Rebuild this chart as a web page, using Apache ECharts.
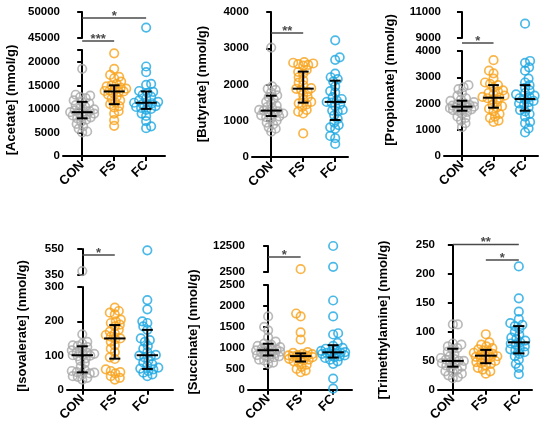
<!DOCTYPE html>
<html>
<head>
<meta charset="utf-8">
<script src="https://cdn.jsdelivr.net/npm/echarts@6/dist/echarts.min.js"></script>
<style>
  html, body { margin: 0; padding: 0; background: #fff; }
  #main { width: 550px; height: 424px; }
</style>
</head>
<body>
<div id="main"></div>
<script>
var groups = ['CON', 'FS', 'FC'];
var groupColors = ['#a9a9a9', '#f8a31c', '#1ea8e1'];

// values (nmol/g)
var acetateCON = [18500, 13000, 12800, 12500, 12300, 11800, 11500, 11200, 10800, 10500, 10200, 9900, 9700, 9500, 9400, 9300, 9200, 9000, 8800, 8600, 8400, 8200, 8000, 7700, 7300, 6800, 6300, 5800, 5200, 5000];
var acetateFS = [21800, 18500, 17200, 16800, 16500, 15800, 15300, 15000, 14800, 14500, 14300, 14100, 13900, 13800, 13700, 13600, 13400, 13000, 12600, 12200, 11800, 11400, 11000, 10600, 10300, 9500, 9000, 7600, 6400];
var acetateFC = [47000, 19000, 17800, 15300, 15100, 13800, 13600, 13400, 13000, 12600, 12200, 11800, 11500, 11300, 11200, 11000, 10800, 10600, 10400, 10200, 10000, 9800, 9000, 8500, 7400, 6300, 5900];

var butyrateCON = [3020, 1950, 1880, 1850, 1780, 1700, 1650, 1600, 1520, 1480, 1420, 1380, 1340, 1300, 1280, 1260, 1240, 1200, 1180, 1150, 1120, 1100, 1060, 1000, 950, 900, 820, 780, 700];
var butyrateFS = [2620, 2600, 2580, 2560, 2540, 2520, 2400, 2350, 2300, 2200, 2120, 2050, 1980, 1900, 1880, 1850, 1800, 1720, 1650, 1580, 1520, 1480, 1450, 1380, 1300, 1250, 1200, 650];
var butyrateFC = [3220, 2750, 2680, 2300, 2200, 2150, 2080, 1950, 1820, 1780, 1650, 1600, 1560, 1520, 1500, 1450, 1400, 1300, 1280, 1250, 1150, 1050, 950, 880, 820, 780, 580, 520, 360];

var propionateCON = [2700, 2620, 2550, 2400, 2300, 2200, 2150, 2100, 2050, 2000, 1980, 1950, 1920, 1900, 1880, 1860, 1850, 1820, 1800, 1780, 1750, 1720, 1680, 1600, 1500, 1450, 1350, 1250, 1100];
var propionateFS = [3650, 3250, 3150, 2950, 2800, 2750, 2700, 2600, 2500, 2450, 2400, 2350, 2300, 2250, 2220, 2200, 2150, 2050, 1950, 1900, 1850, 1800, 1700, 1600, 1500, 1450, 1350, 1300];
var propionateFC = [10100, 3620, 3550, 3380, 3250, 2950, 2800, 2700, 2600, 2500, 2400, 2350, 2300, 2250, 2200, 2170, 2100, 2050, 2000, 1950, 1850, 1750, 1700, 1600, 1500, 1300, 1250, 1050, 900];

var isovalerateCON = [380, 162, 140, 135, 130, 128, 125, 120, 115, 110, 108, 105, 103, 101, 100, 98, 92, 85, 78, 68, 58, 55, 52, 50, 48, 45, 40, 38, 35, 30];
var isovalerateFS = [240, 230, 225, 220, 205, 200, 195, 190, 185, 175, 170, 165, 160, 155, 150, 148, 140, 130, 120, 110, 95, 90, 60, 55, 52, 48, 40, 35, 30];
var isovalerateFC = [540, 262, 235, 200, 195, 185, 175, 150, 145, 140, 128, 120, 110, 102, 100, 98, 95, 85, 80, 75, 70, 65, 62, 60, 55, 50, 45, 40];

var succinateCON = [1750, 1500, 1420, 1250, 1150, 1100, 1080, 1050, 1020, 1000, 980, 960, 950, 940, 930, 910, 890, 870, 850, 830, 820, 800, 780, 750, 720, 700, 650, 620];
var succinateFS = [3600, 1820, 1750, 1370, 1200, 900, 880, 860, 850, 830, 820, 810, 800, 790, 780, 760, 740, 720, 700, 680, 650, 600, 550, 500, 460, 420];
var succinateFC = [12500, 4500, 2130, 1750, 1350, 1320, 1120, 1050, 1000, 980, 950, 930, 920, 900, 890, 880, 870, 860, 840, 820, 800, 780, 760, 720, 680, 620, 270, 30];

var tmaCON = [113, 113, 80, 78, 75, 72, 70, 66, 62, 58, 55, 53, 52, 50, 50, 48, 46, 44, 42, 40, 38, 35, 32, 30, 28, 25, 22, 20];
var tmaFS = [96, 82, 78, 75, 72, 70, 68, 66, 64, 62, 60, 59, 58, 57, 56, 55, 53, 50, 48, 46, 45, 42, 38, 35, 32, 28];
var tmaFC = [213, 158, 135, 122, 115, 112, 110, 105, 100, 95, 90, 88, 85, 82, 80, 78, 75, 72, 70, 68, 65, 62, 58, 52, 45, 38, 27];

// median, Q1, Q3 per group
var acetateStats = [[9300, 8000, 11500], [13700, 11000, 15000], [11300, 10000, 13700]];
var butyrateStats = [[1280, 1130, 1690], [1885, 1500, 2355], [1520, 1020, 2105]];
var propionateStats = [[1880, 1725, 2105], [2220, 1840, 2700], [2170, 1725, 2700]];
var isovalerateStats = [[101, 51, 127], [150, 91, 189], [101, 61, 175]];
var succinateStats = [[945, 820, 1100], [805, 675, 870], [895, 770, 1065]];
var tmaStats = [[50, 40, 71], [59, 46, 69], [82, 63, 110]];

// significance: from group, to group, stars, height (axis units)
var acetateSig = [[0, 2, '*', 48850], [0, 1, '***', 44420]];
var butyrateSig = [[0, 1, '**', 3420]];
var propionateSig = [[0, 1, '*', 8620]];
var isovalerateSig = [[0, 1, '*', 504]];
var succinateSig = [[0, 1, '*', 8270]];
var tmaSig = [[0, 2, '**', 251], [1, 2, '*', 224]];

// axis ranges and ticks
var acetateLow = [0, 22500], acetateHigh = [45000, 50000];
var acetateTicks = [0, 5000, 10000, 15000, 20000];
var butyrateLow = [0, 4000];
var butyrateTicks = [0, 1000, 2000, 3000, 4000];
var propionateLow = [0, 4000], propionateHigh = [9000, 11000];
var propionateTicks = [0, 1000, 2000, 3000, 4000];
var isovalerateLow = [0, 300], isovalerateHigh = [350, 550];
var isovalerateTicks = [0, 100, 200, 300];
var succinateLow = [0, 2500], succinateHigh = [2500, 12500];
var succinateTicks = [0, 500, 1000, 1500, 2000, 2500];
var tmaLow = [0, 250];
var tmaTicks = [0, 50, 100, 150, 200, 250];

var panels = [
  { title: '[Acetate] (nmol/g)', data: [acetateCON, acetateFS, acetateFC], stats: acetateStats, sig: acetateSig,
    low: acetateLow, high: acetateHigh, ticks: acetateTicks,
    left: 63, width: 102, xMin: -0.6, xMax: 2.59, lowTop: 50, lowBottom: 156, highTop: 12, highBottom: 38, tx: 11, ty: 100 },
  { title: '[Butyrate] (nmol/g)', data: [butyrateCON, butyrateFS, butyrateFC], stats: butyrateStats, sig: butyrateSig,
    low: butyrateLow, ticks: butyrateTicks,
    left: 252, width: 96, xMin: -0.6, xMax: 2.4, lowTop: 12, lowBottom: 157, tx: 202, ty: 84 },
  { title: '[Propionate] (nmol/g)', data: [propionateCON, propionateFS, propionateFC], stats: propionateStats, sig: propionateSig,
    low: propionateLow, high: propionateHigh, ticks: propionateTicks,
    left: 444, width: 94, xMin: -0.57, xMax: 2.41, lowTop: 51, lowBottom: 156, highTop: 12, highBottom: 38, tx: 390, ty: 80 },
  { title: '[Isovalerate] (nmol/g)', data: [isovalerateCON, isovalerateFS, isovalerateFC], stats: isovalerateStats, sig: isovalerateSig,
    low: isovalerateLow, high: isovalerateHigh, ticks: isovalerateTicks,
    left: 67, width: 106, xMin: -0.47, xMax: 2.79, lowTop: 287, lowBottom: 392, highTop: 249, highBottom: 275, tx: 22, ty: 326 },
  { title: '[Succinate] (nmol/g)', data: [succinateCON, succinateFS, succinateFC], stats: succinateStats, sig: succinateSig,
    low: succinateLow, high: succinateHigh, ticks: succinateTicks,
    left: 248, width: 104, xMin: -0.62, xMax: 2.58, lowTop: 285, lowBottom: 392, highTop: 246, highBottom: 272, tx: 193, ty: 332 },
  { title: '[Trimethylamine] (nmol/g)', data: [tmaCON, tmaFS, tmaFC], stats: tmaStats, sig: tmaSig,
    low: tmaLow, ticks: tmaTicks,
    left: 438, width: 94, xMin: -0.45, xMax: 2.4, lowTop: 245, lowBottom: 391, tx: 383, ty: 320 }
];

var FONT = 'Liberation Sans, Arial, sans-serif';
var DOT = 8.5;
var GAP = 5;      // dots may overlap a little, like the original
var SPREAD = 12;  // half width of a swarm, px

// simple beeswarm: push each dot sideways until it no longer overlaps
function swarm(values, pxPerY, pxPerX) {
  var order = values.map(function (v, i) { return i; })
    .sort(function (a, b) { return values[a] - values[b]; });
  var placed = [];
  var offsets = [];
  order.forEach(function (i, k) {
    var y = values[i] * pxPerY;
    var side = k % 2 ? 1 : -1;
    var dx = 0, bestDx = 0, bestHit = Infinity;
    for (var s = 0; s < 200; s++) {
      dx = s === 0 ? 0 : (s % 2 ? side : -side) * Math.ceil(s / 2) * 0.5;
      if (Math.abs(dx) > SPREAD) break;
      var hit = 0;
      placed.forEach(function (p) {
        var a = p.x - dx, b = p.y - y;
        var d = Math.sqrt(a * a + b * b);
        if (d < GAP) hit += GAP - d;
      });
      if (hit < bestHit) { bestHit = hit; bestDx = dx; }
      if (hit === 0) break;
    }
    placed.push({ x: bestDx, y: y });
    offsets[i] = bestDx / pxPerX;
  });
  return offsets;
}

var grid = [], xAxis = [], yAxis = [], series = [], graphic = [];

function axisX(gi, p, show) {
  return {
    type: 'value', gridIndex: gi, min: p.xMin, max: p.xMax, show: show,
    axisLine: { show: true, onZero: false, lineStyle: { color: '#000', width: 2 } },
    axisTick: { show: true, length: 5, customValues: [0, 1, 2], lineStyle: { color: '#000', width: 2 } },
    axisLabel: {
      customValues: [0, 1, 2], rotate: 45, margin: 7, color: '#000',
      fontFamily: FONT, fontWeight: 'bold', fontSize: 13,
      formatter: function (v) { return groups[Math.round(v)]; }
    },
    splitLine: { show: false }
  };
}

function axisY(gi, range, ticks, labels) {
  return {
    type: 'value', gridIndex: gi, min: range[0], max: range[1],
    axisLine: { show: true, lineStyle: { color: '#000', width: 2 } },
    axisTick: { show: true, length: 5, customValues: ticks, lineStyle: { color: '#000', width: 2 } },
    axisLabel: {
      customValues: labels, margin: 3, color: '#000', fontFamily: FONT, fontWeight: 'bold', fontSize: 11.5,
      formatter: function (v) { return String(v); }
    },
    splitLine: { show: false }
  };
}

function errorBars(gi, stats) {
  return {
    type: 'custom', xAxisIndex: gi, yAxisIndex: gi, z: 5, silent: true,
    data: stats.map(function (s, g) { return [g, s[0], s[1], s[2]]; }),
    renderItem: function (params, api) {
      var x = api.value(0);
      var med = api.coord([x, api.value(1)]);
      var lo = api.coord([x, api.value(2)]);
      var hi = api.coord([x, api.value(3)]);
      var wMed = api.size([0.33, 0])[0];
      var wCap = api.size([0.17, 0])[0];
      var st = { stroke: '#000', lineWidth: 2 };
      return {
        type: 'group',
        children: [
          { type: 'line', shape: { x1: lo[0], y1: lo[1], x2: hi[0], y2: hi[1] }, style: st },
          { type: 'line', shape: { x1: med[0] - wMed, y1: med[1], x2: med[0] + wMed, y2: med[1] }, style: st },
          { type: 'line', shape: { x1: lo[0] - wCap, y1: lo[1], x2: lo[0] + wCap, y2: lo[1] }, style: st },
          { type: 'line', shape: { x1: hi[0] - wCap, y1: hi[1], x2: hi[0] + wCap, y2: hi[1] }, style: st }
        ]
      };
    }
  };
}

function brackets(gi, sig) {
  return {
    type: 'custom', xAxisIndex: gi, yAxisIndex: gi, z: 6, silent: true, clip: false,
    data: sig.map(function (s) { return [s[0], s[1], s[3], s[2]]; }),
    renderItem: function (params, api) {
      var a = api.coord([api.value(0), api.value(2)]);
      var b = api.coord([api.value(1), api.value(2)]);
      return {
        type: 'group',
        children: [
          { type: 'line', shape: { x1: a[0], y1: a[1], x2: b[0], y2: b[1] }, style: { stroke: '#4a4a4a', lineWidth: 1.5 } },
          { type: 'text', x: (a[0] + b[0]) / 2, y: a[1] - 2,
            style: { text: sig[params.dataIndex][2], fill: '#4a4a4a', font: 'bold 13px ' + FONT, align: 'center', verticalAlign: 'middle' } }
        ]
      };
    }
  };
}

panels.forEach(function (p) {
  var gLow = grid.length;
  grid.push({ left: p.left, top: p.lowTop, width: p.width, height: p.lowBottom - p.lowTop });
  xAxis.push(axisX(gLow, p, true));
  var lowTicks = p.ticks.slice();
  if (lowTicks[lowTicks.length - 1] !== p.low[1]) lowTicks.push(p.low[1]);
  yAxis.push(axisY(gLow, p.low, lowTicks, p.ticks));

  var gHigh = gLow;
  if (p.high) {
    gHigh = grid.length;
    grid.push({ left: p.left, top: p.highTop, width: p.width, height: p.highBottom - p.highTop });
    xAxis.push(axisX(gHigh, p, false));
    yAxis.push(axisY(gHigh, p.high, p.high, p.high));
  }

  var pxPerY = (p.lowBottom - p.lowTop) / (p.low[1] - p.low[0]);
  var pxPerX = p.width / (p.xMax - p.xMin);

  p.data.forEach(function (vals, g) {
    var lowVals = vals.filter(function (v) { return v <= p.low[1]; });
    var highVals = vals.filter(function (v) { return v > p.low[1]; });
    var off = swarm(lowVals, pxPerY, pxPerX);
    var dotStyle = { color: 'rgba(255,255,255,0)', borderColor: groupColors[g], borderWidth: 1.7 };
    series.push({
      type: 'scatter', xAxisIndex: gLow, yAxisIndex: gLow, symbolSize: DOT, itemStyle: dotStyle, silent: true,
      data: lowVals.map(function (v, i) { return [g + off[i], v]; })
    });
    if (highVals.length) {
      series.push({
        type: 'scatter', xAxisIndex: gHigh, yAxisIndex: gHigh, symbolSize: DOT, itemStyle: dotStyle, silent: true,
        data: highVals.map(function (v) { return [g, v]; })
      });
    }
  });

  series.push(errorBars(gLow, p.stats));
  series.push(brackets(gHigh, p.sig));

  graphic.push({
    type: 'text', x: p.tx, y: p.ty, rotation: Math.PI / 2,
    style: { text: p.title, font: 'bold 13px ' + FONT, fill: '#000', align: 'center', verticalAlign: 'middle' }
  });
});

var chart = echarts.init(document.getElementById('main'), null, { renderer: 'canvas' });
chart.setOption({
  animation: false,
  backgroundColor: '#fff',
  grid: grid,
  xAxis: xAxis,
  yAxis: yAxis,
  series: series,
  graphic: graphic
});
</script>
</body>
</html>
